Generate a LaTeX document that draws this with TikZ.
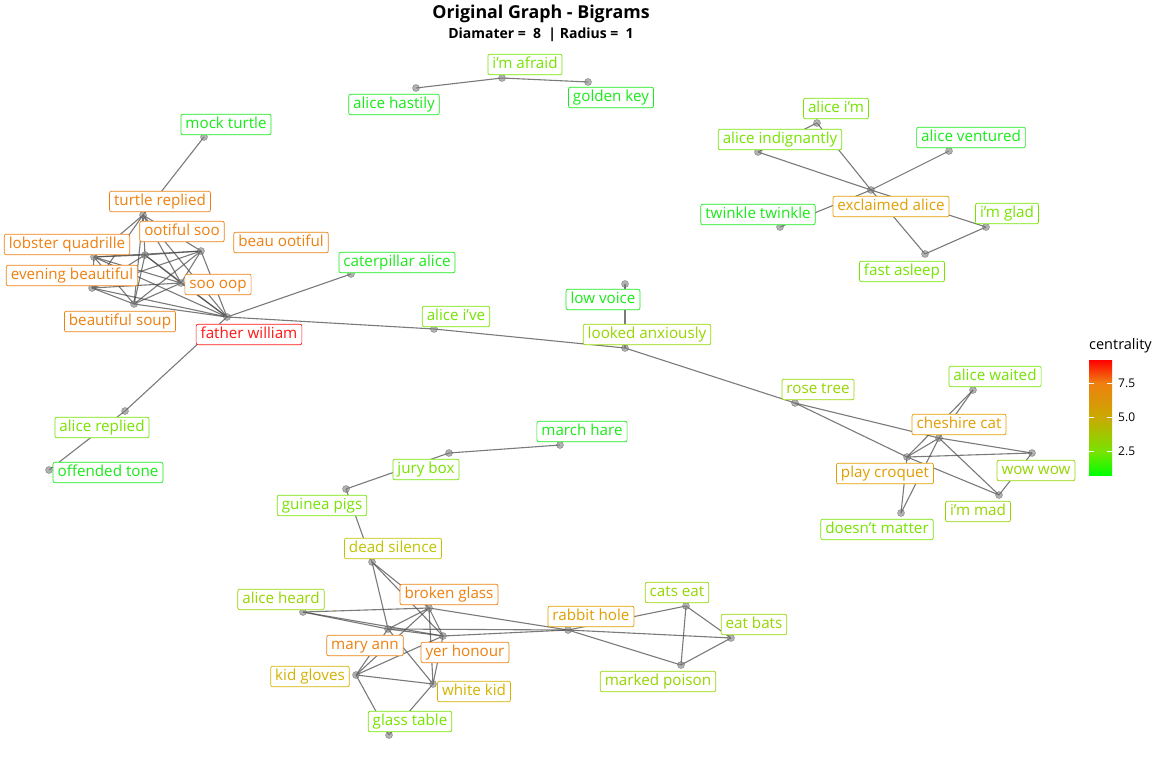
\documentclass[tikz,border=0pt]{standalone}
\usepackage{fontspec}
\setmainfont{Open Sans}
\usetikzlibrary{backgrounds}

% centrality colours, green (low) to red (high)
\definecolor{cent1}{RGB}{25,235,25}
\definecolor{cent2}{RGB}{118,228,0}
\definecolor{cent3}{RGB}{150,214,0}
\definecolor{cent4}{RGB}{192,196,0}
\definecolor{cent5}{RGB}{212,178,0}
\definecolor{cent6}{RGB}{226,158,0}
\definecolor{cent7}{RGB}{238,128,16}
\definecolor{cent9}{RGB}{255,22,22}

\pgfdeclareverticalshading{centbar}{100bp}{color(0bp)=(green); color(25bp)=(green);
  color(35bp)=(cent2); color(50bp)=(cent5!95!black); color(65bp)=(cent7); color(75bp)=(red); color(100bp)=(red)}

\tikzset{
  pt/.style={circle, inner sep=0pt, minimum size=7pt, fill=gray, fill opacity=0.6,
    draw=gray!60!black, draw opacity=0.45, line width=0.6pt},
  lbl/.style={draw=#1, text=#1, fill=white, rounded corners=2pt, line width=0.7pt,
    inner xsep=4.5pt, inner ysep=2.6pt, text height=11.6pt, text depth=3.8pt,
    yshift=-1.5pt, font=\fontsize{15.2}{17}\selectfont},
  link/.style={draw=black!72, line width=1.1pt, opacity=0.72},
}

\begin{document}
\begin{tikzpicture}[x=1pt, y=-1pt]
  \useasboundingbox (0,0) rectangle (1152,768);

  % title
  \node (title) at (541,14) {\fontsize{17.8}{20}\selectfont\bfseries Original Graph - Bigrams};
  \node (subtitle) at (541,35) {\fontsize{14}{16}\selectfont\bfseries Diamater =\ \ 8\ \ | Radius =\ \ 1};

  % points
  \node[pt] (mt) at (204,137) {};
  \node[pt] (tr) at (143,215) {};
  \node[pt] (lq) at (94,257) {};
  \node[pt] (os) at (145,255) {};
  \node[pt] (bo) at (201,251) {};
  \node[pt] (so) at (181,283) {};
  \node[pt] (eb) at (92,288) {};
  \node[pt] (bs) at (134,304) {};
  \node[pt] (fw) at (227,317) {};
  \node[pt] (ca) at (351,274) {};
  \node[pt] (aiv) at (434,329) {};
  \node[pt] (lv) at (625,284) {};
  \node[pt] (la) at (625,348) {};
  \node[pt] (ar) at (125,411) {};
  \node[pt] (ot) at (49,470) {};
  \node[pt] (ia) at (502,78) {};
  \node[pt] (ah) at (416,88) {};
  \node[pt] (gk) at (588,82) {};
  \node[pt] (aim) at (817,123) {};
  \node[pt] (ain) at (758,152) {};
  \node[pt] (av) at (949,151) {};
  \node[pt] (ea) at (871,190) {};
  \node[pt] (tt) at (780,227) {};
  \node[pt] (ig) at (986,227) {};
  \node[pt] (fa) at (925,254) {};
  \node[pt] (rt) at (795,403) {};
  \node[pt] (aw) at (973,390) {};
  \node[pt] (cc) at (939,438) {};
  \node[pt] (pc) at (907,457) {};
  \node[pt] (ww) at (1032,453) {};
  \node[pt] (imd) at (999,495) {};
  \node[pt] (dm) at (901,513) {};
  \node[pt] (mh) at (560,445) {};
  \node[pt] (jb) at (449,453) {};
  \node[pt] (gp) at (346,489) {};
  \node[pt] (ds) at (372,562) {};
  \node[pt] (ahd) at (303,612) {};
  \node[pt] (bg) at (429,608) {};
  \node[pt] (rh) at (568,630) {};
  \node[pt] (ce) at (686,606) {};
  \node[pt] (eba) at (731,638) {};
  \node[pt] (mp) at (681,665) {};
  \node[pt] (ma) at (388,629) {};
  \node[pt] (yh) at (443,636) {};
  \node[pt] (kg) at (356,675) {};
  \node[pt] (wk) at (433,684) {};
  \node[pt] (gt) at (389,735) {};

  % edges
  \begin{scope}[on background layer]
    % mock turtle group
    \draw[link] (mt.center) -- (tr.center);
    \draw[link] (tr.center) -- (lq.center); \draw[link] (tr.center) -- (os.center);
    \draw[link] (tr.center) -- (bo.center); \draw[link] (tr.center) -- (so.center);
    \draw[link] (tr.center) -- (eb.center); \draw[link] (tr.center) -- (bs.center);
    \draw[link] (tr.center) -- (fw.center);
    \draw[link] (lq.center) -- (os.center); \draw[link] (lq.center) -- (bo.center);
    \draw[link] (lq.center) -- (so.center); \draw[link] (lq.center) -- (eb.center);
    \draw[link] (lq.center) -- (bs.center); \draw[link] (lq.center) -- (fw.center);
    \draw[link] (os.center) -- (bo.center); \draw[link] (os.center) -- (so.center);
    \draw[link] (os.center) -- (eb.center); \draw[link] (os.center) -- (bs.center);
    \draw[link] (os.center) -- (fw.center);
    \draw[link] (bo.center) -- (so.center); \draw[link] (bo.center) -- (eb.center);
    \draw[link] (bo.center) -- (bs.center); \draw[link] (bo.center) -- (fw.center);
    \draw[link] (so.center) -- (eb.center); \draw[link] (so.center) -- (bs.center);
    \draw[link] (so.center) -- (fw.center);
    \draw[link] (eb.center) -- (bs.center); \draw[link] (eb.center) -- (fw.center);
    \draw[link] (bs.center) -- (fw.center);
    % father william
    \draw[link] (fw.center) -- (ca.center);
    \draw[link] (fw.center) -- (aiv.center);
    \draw[link] (fw.center) -- (ar.center);
    \draw[link] (ar.center) -- (ot.center);
    \draw[link] (aiv.center) -- (la.center);
    \draw[link] (lv.center) -- (la.center);
    \draw[link] (la.center) -- (rt.center);
    % i'm afraid
    \draw[link] (ia.center) -- (ah.center);
    \draw[link] (ia.center) -- (gk.center);
    % exclaimed alice
    \draw[link] (aim.center) -- (ain.center);
    \draw[link] (aim.center) -- (ea.center);
    \draw[link] (ain.center) -- (ea.center);
    \draw[link] (av.center) -- (ea.center);
    \draw[link] (tt.center) -- (ea.center);
    \draw[link] (ea.center) -- (ig.center);
    \draw[link] (ea.center) -- (fa.center);
    \draw[link] (fa.center) -- (ig.center);
    % cheshire cat
    \draw[link] (rt.center) -- (pc.center);
    \draw[link] (rt.center) -- (cc.center);
    \draw[link] (cc.center) -- (ww.center);
    \draw[link] (aw.center) -- (cc.center);
    \draw[link] (aw.center) -- (pc.center);
    \draw[link] (cc.center) -- (pc.center);
    \draw[link] (cc.center) -- (imd.center);
    \draw[link] (cc.center) -- (dm.center);
    \draw[link] (pc.center) -- (dm.center);
    \draw[link] (pc.center) -- (ww.center);
    \draw[link] (pc.center) -- (imd.center);
    \draw[link] (imd.center) -- (ww.center);
    % march hare
    \draw[link] (mh.center) -- (jb.center);
    \draw[link] (jb.center) -- (gp.center);
    \draw[link] (gp.center) -- (ds.center);
    \draw[link] (ds.center) -- (ma.center);
    \draw[link] (ds.center) -- (bg.center);
    \draw[link] (ds.center) -- (yh.center);
    \draw[link] (ahd.center) -- (bg.center);
    \draw[link] (ahd.center) -- (ma.center);
    \draw[link] (ahd.center) -- (yh.center);
    \draw[link] (bg.center) -- (ma.center); \draw[link] (bg.center) -- (yh.center);
    \draw[link] (bg.center) -- (wk.center); \draw[link] (bg.center) -- (kg.center);
    \draw[link] (bg.center) -- (rh.center);
    \draw[link] (ma.center) -- (yh.center); \draw[link] (ma.center) -- (kg.center);
    \draw[link] (ma.center) -- (wk.center); \draw[link] (ma.center) -- (rh.center);
    \draw[link] (yh.center) -- (kg.center); \draw[link] (yh.center) -- (wk.center);
    \draw[link] (yh.center) -- (rh.center);
    \draw[link] (kg.center) -- (wk.center);
    \draw[link] (kg.center) -- (gt.center);
    \draw[link] (wk.center) -- (gt.center);
    % rabbit hole
    \draw[link] (rh.center) -- (ce.center);
    \draw[link] (rh.center) -- (eba.center);
    \draw[link] (rh.center) -- (mp.center);
    \draw[link] (ce.center) -- (eba.center);
    \draw[link] (ce.center) -- (mp.center);
    \draw[link] (eba.center) -- (mp.center);
  \end{scope}

  % labels
  \node[lbl=cent1] (mtl) at (226,123) {mock turtle};
  \node[lbl=cent7] (trl) at (160,200) {turtle replied};
  \node[lbl=cent7] (osl) at (182,230) {ootiful soo};
  \node[lbl=cent7] (lql) at (67,243) {lobster quadrille};
  \node[lbl=cent7] (bol) at (281,241) {beau ootiful};
  \node[lbl=cent7] (ebl) at (72,274) {evening beautiful};
  \node[lbl=cent7] (sol) at (218,283) {soo oop};
  \node[lbl=cent7] (bsl) at (120,320) {beautiful soup};
  \node[lbl=cent9] (fwl) at (249,333) {father william};
  \node[lbl=cent1] (cal) at (397,261) {caterpillar alice};
  \node[lbl=cent2] (aivl) at (456,315) {alice i've};
  \node[lbl=cent1] (lvl) at (603,298) {low voice};
  \node[lbl=cent3] (lal) at (647,333) {looked anxiously};
  \node[lbl=cent2] (arl) at (102,426) {alice replied};
  \node[lbl=cent1] (otl) at (108,471) {offended tone};
  \node[lbl=cent2] (ial) at (525,63) {i'm afraid};
  \node[lbl=cent1] (ahl) at (394,103) {alice hastily};
  \node[lbl=cent1] (gkl) at (611,96) {golden key};
  \node[lbl=cent2] (aiml) at (836,107) {alice i'm};
  \node[lbl=cent2] (ainl) at (780,138) {alice indignantly};
  \node[lbl=cent1] (avl) at (971,136) {alice ventured};
  \node[lbl=cent6] (eal) at (891,205) {exclaimed alice};
  \node[lbl=cent1] (ttl) at (758,213) {twinkle twinkle};
  \node[lbl=cent2] (igl) at (1007,212) {i'm glad};
  \node[lbl=cent2] (fal) at (902,270) {fast asleep};
  \node[lbl=cent3] (rtl) at (818,388) {rose tree};
  \node[lbl=cent2] (awl) at (995,375) {alice waited};
  \node[lbl=cent6] (ccl) at (959,423) {cheshire cat};
  \node[lbl=cent6] (pcl) at (885,472) {play croquet};
  \node[lbl=cent3] (wwl) at (1036,469) {wow wow};
  \node[lbl=cent3] (imdl) at (978,510) {i'm mad};
  \node[lbl=cent2] (dml) at (877,528) {doesn't matter};
  \node[lbl=cent1] (mhl) at (582,430) {march hare};
  \node[lbl=cent2] (jbl) at (426,468) {jury box};
  \node[lbl=cent2] (gpl) at (322,504) {guinea pigs};
  \node[lbl=cent4] (dsl) at (393,547) {dead silence};
  \node[lbl=cent3] (ahdl) at (281,598) {alice heard};
  \node[lbl=cent7] (bgl) at (449,593) {broken glass};
  \node[lbl=cent6] (rhl) at (591,615) {rabbit hole};
  \node[lbl=cent3] (cel) at (677,591) {cats eat};
  \node[lbl=cent3] (ebal) at (754,623) {eat bats};
  \node[lbl=cent7] (mal) at (365,644) {mary ann};
  \node[lbl=cent7] (yhl) at (465,651) {yer honour};
  \node[lbl=cent5] (kgl) at (310,675) {kid gloves};
  \node[lbl=cent5] (wkl) at (474,690) {white kid};
  \node[lbl=cent2] (gtl) at (410,720) {glass table};
  \node[lbl=cent3] (mpl) at (658,680) {marked poison};

  % legend
  \node[anchor=west, inner sep=0pt] (legtitle) at (1089,346) {\fontsize{14.5}{16}\selectfont centrality};
  \shade[shading=centbar] (1089,360) rectangle (1112,475);
  \draw[white, line width=0.6pt] (1089,383) -- (1094,383) (1107,383) -- (1112,383);
  \draw[white, line width=0.6pt] (1089,417) -- (1094,417) (1107,417) -- (1112,417);
  \draw[white, line width=0.6pt] (1089,451) -- (1094,451) (1107,451) -- (1112,451);
  \node[anchor=west, inner sep=0pt] (t75) at (1118,383) {\fontsize{12}{13}\selectfont 7.5};
  \node[anchor=west, inner sep=0pt] (t50) at (1118,417) {\fontsize{12}{13}\selectfont 5.0};
  \node[anchor=west, inner sep=0pt] (t25) at (1118,451) {\fontsize{12}{13}\selectfont 2.5};
\end{tikzpicture}
\end{document}
